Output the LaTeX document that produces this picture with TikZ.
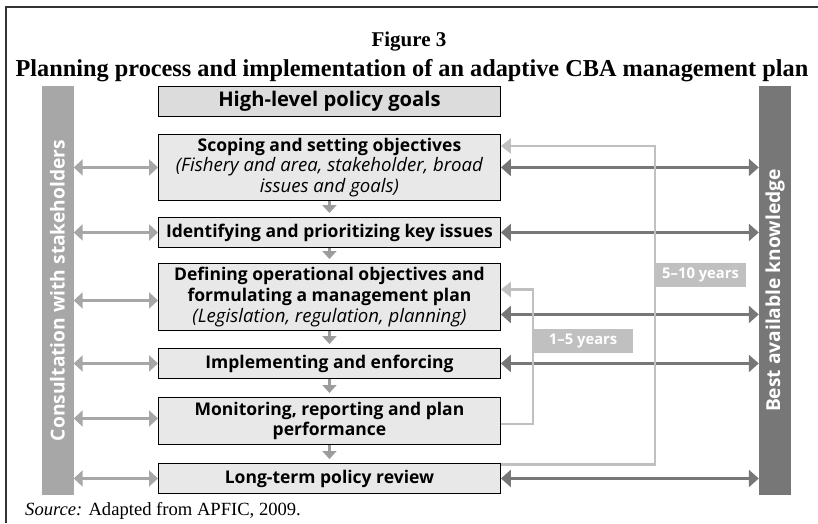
\documentclass[tikz,border=0pt]{standalone}
\usepackage{fontspec}
\setmainfont{Liberation Serif}
\newfontfamily\boxfont{Open Sans}
\usetikzlibrary{arrows.meta}

\definecolor{framegray}{HTML}{333333}
\definecolor{leftgray}{HTML}{A7A7A7}
\definecolor{rightgray}{HTML}{777777}
\definecolor{loopgray}{HTML}{C0C0C0}
\definecolor{stepgray}{HTML}{9C9C9C}
\definecolor{boxfill}{HTML}{E8E8E8}
\definecolor{topfill}{HTML}{DCDCDC}

% italic remarks inside the step boxes
\newcommand{\remark}[1]{{\mdseries\itshape\fontsize{18.6}{20.8}\selectfont #1}}

\begin{document}
\begin{tikzpicture}[x=1pt,y=-1pt,
  stepbox/.style={draw=black, line width=0.9pt, fill=boxfill, minimum width=342pt,
    inner sep=0pt, align=center, anchor=north west,
    font=\boxfont\bfseries\fontsize{17.5}{20.8}\selectfont},
  sidebar/.style={inner sep=0pt, minimum width=32pt, minimum height=409pt},
  bartext/.style={rotate=90, text=white, font=\boxfont\bfseries\fontsize{19.2}{20}\selectfont},
  consultarrow/.style={draw=leftgray, line width=3pt,
    {Triangle[length=9pt,width=16pt]}-{Triangle[length=9pt,width=16pt]}},
  knowarrow/.style={draw=rightgray, line width=3pt,
    {Triangle[length=10pt,width=17pt]}-{Triangle[length=10pt,width=17pt]}},
  steparrow/.style={draw=stepgray, line width=3pt, shorten >=4pt,
    -{Triangle[length=8pt,width=14pt]}},
  feedback/.style={draw=loopgray, line width=2.6pt,
    -{Triangle[length=10pt,width=15pt]}},
  yearslabel/.style={fill=loopgray, text=white, inner sep=0pt, anchor=north west,
    minimum height=24pt, font=\boxfont\bfseries\fontsize{14.8}{16}\selectfont},
]
\useasboundingbox (0,0) rectangle (818,523);

% outer frame (open at right and bottom)
\draw[framegray, line width=1.8pt] (6,523) -- (6,7) -- (818,7);

% headings
\node[font=\bfseries\fontsize{21}{24}\selectfont] (fig) at (409,42) {Figure 3};
\node[font=\bfseries\fontsize{24.3}{26}\selectfont] (title) at (412,71)
  {Planning process and implementation of an adaptive CBA management plan};

% side bars
\node[sidebar, fill=leftgray] (consult) at (57.5,290.5) {};
\node[bartext] (consultlbl) at (consult.center) {Consultation with stakeholders};
\node[sidebar, fill=rightgray] (know) at (775,290.5) {};
\node[bartext] (knowlbl) at (know.center) {Best available knowledge};

% process steps
\node[stepbox, fill=topfill, minimum height=30pt, font=\boxfont\bfseries\fontsize{20.2}{22}\selectfont]
  (hl) at (158,86) {High-level policy goals};
\node[stepbox, minimum height=66pt] (scope) at (158,134)
  {Scoping and setting objectives\\
   \remark{(Fishery and area, stakeholder, broad}\\
   \remark{issues and goals)}};
\node[stepbox, minimum height=30pt] (ident) at (158,217)
  {Identifying and prioritizing key issues};
\node[stepbox, minimum height=67pt] (define) at (158,263)
  {Defining operational objectives and\\
   formulating a management plan\\
   \remark{(Legislation, regulation, planning)}};
\node[stepbox, minimum height=30pt] (impl) at (158,348)
  {Implementing and enforcing};
\node[stepbox, minimum height=47pt] (monitor) at (158,397)
  {Monitoring, reporting and plan\\
   performance};
\node[stepbox, minimum height=30pt] (review) at (158,463)
  {Long-term policy review};

% attachment points that sit off the box centres
\coordinate (defineL) at ([yshift=-3.5pt]define.west);
\coordinate (monitorL) at ([yshift=2.5pt]monitor.west);
\coordinate (defineR) at ([yshift=-17.5pt]define.east);
\coordinate (defineIn) at ([yshift=7.5pt]define.east);
\coordinate (monitorOut) at ([yshift=-3pt]monitor.east);
\coordinate (reviewOut) at ([yshift=-1.5pt]review.north east);
\coordinate (scopeIn) at ([yshift=-12pt]scope.north east);

% flow between steps
\foreach \a/\b in {scope/ident, ident/define, define/impl, impl/monitor, monitor/review}
  \draw[steparrow] (\a.south) -- (\b.north);

% consultation links
\foreach \s in {scope.west, ident.west, defineL, impl.west, monitorL, review.west}
  \draw[consultarrow] (consult.east |- \s) -- (\s);

% knowledge links
\foreach \s in {scope.east, ident.east, defineR, impl.east, review.east}
  \draw[knowarrow] (\s) -- (know.west |- \s);

% adaptive feedback loops
\draw[feedback] (reviewOut) -- ++(154,0) coordinate (longcorner) |- (scopeIn);
\node[yearslabel, minimum width=91pt] (longyrs) at (longcorner |- 0,263) {5–10 years};
\draw[feedback] (monitorOut) -- ++(32,0) coordinate (shortcorner) |- (defineIn);
\node[yearslabel, minimum width=100pt] (shortyrs) at (shortcorner |- 0,329) {1–5 years};

% source note
\node[anchor=base west, inner sep=0pt, font=\fontsize{18.6}{20}\selectfont] (src) at (25,515)
  {\textit{Source:} Adapted from APFIC, 2009.};
\end{tikzpicture}
\end{document}
